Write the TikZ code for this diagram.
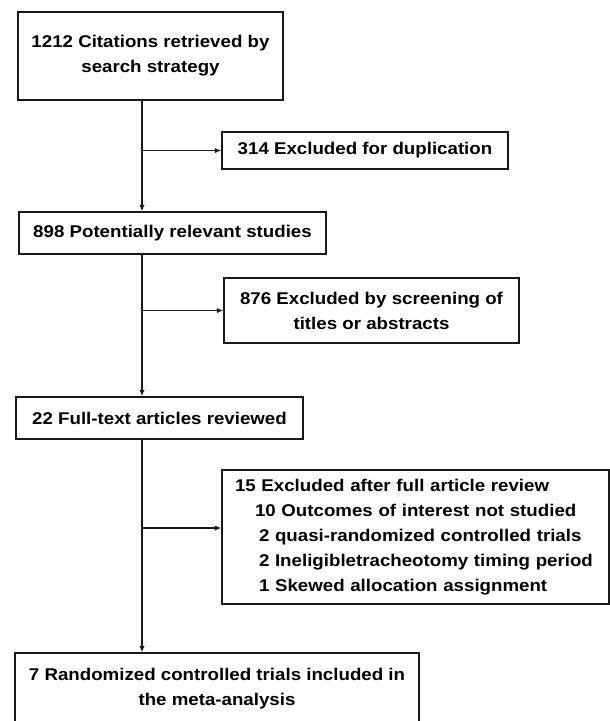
\documentclass[tikz,border=0pt]{standalone}
\usepackage{fontspec}
\setmainfont{Liberation Sans}[FakeStretch=1.1]
\usetikzlibrary{arrows.meta}

\begin{document}
\begin{tikzpicture}[x=1pt, y=-1pt,
  box/.style={draw=black!90, line width=1.4pt, inner sep=0pt, align=center,
    font=\fontsize{17}{25}\selectfont\bfseries},
  arrow/.style={draw=black!90, line width=1.4pt, -{Latex[length=6.5pt,width=5.5pt]}}]

\useasboundingbox (0,0) rectangle (610,721);

% Boxes of the flow chart
\node[box, minimum width=265pt, minimum height=88pt] (search) at (150.5,56) {1212 Citations retrieved by\\search strategy};
\node[box, minimum width=286pt, minimum height=37pt] (dupl) at (365,150.5) {314 Excluded for duplication};
\node[box, minimum width=307pt, minimum height=42pt] (relevant) at (172.5,233) {898 Potentially relevant studies};
\node[box, minimum width=295pt, minimum height=65pt] (screen) at (371.5,310.5) {876 Excluded by screening of\\titles or abstracts};
\node[box, minimum width=287pt, minimum height=42pt] (fulltext) at (159.5,418) {22 Full-text articles reviewed};
\node[box, align=left, text width=361pt, minimum width=387pt, minimum height=134pt] (excl) at (415.5,537)
  {15 Excluded after full article review\\
   \hspace*{20pt}10 Outcomes of interest not studied\\
   \hspace*{24pt}2 quasi-randomized controlled trials\\
   \hspace*{24pt}2 Ineligibletracheotomy timing period\\
   \hspace*{24pt}1 Skewed allocation assignment};
\node[box, minimum width=404pt, minimum height=71pt] (included) at (217,688.5) {7 Randomized controlled trials included in\\the meta-analysis};

% Draw the main line
\coordinate (trunk) at (142,0);
\draw[arrow] (search.south -| trunk) -- (relevant.north -| trunk);
\draw[arrow] (relevant.south -| trunk) -- (fulltext.north -| trunk);
\draw[arrow] (fulltext.south -| trunk) -- (included.north -| trunk);

% Draw the exclusion branches
\draw[arrow] (dupl.west -| trunk) -- (dupl.west);
\draw[arrow] (screen.west -| trunk) -- (screen.west);
\coordinate (fork) at (142,528);
\draw[arrow] (fork) -- (fork -| excl.west);

\end{tikzpicture}
\end{document}
